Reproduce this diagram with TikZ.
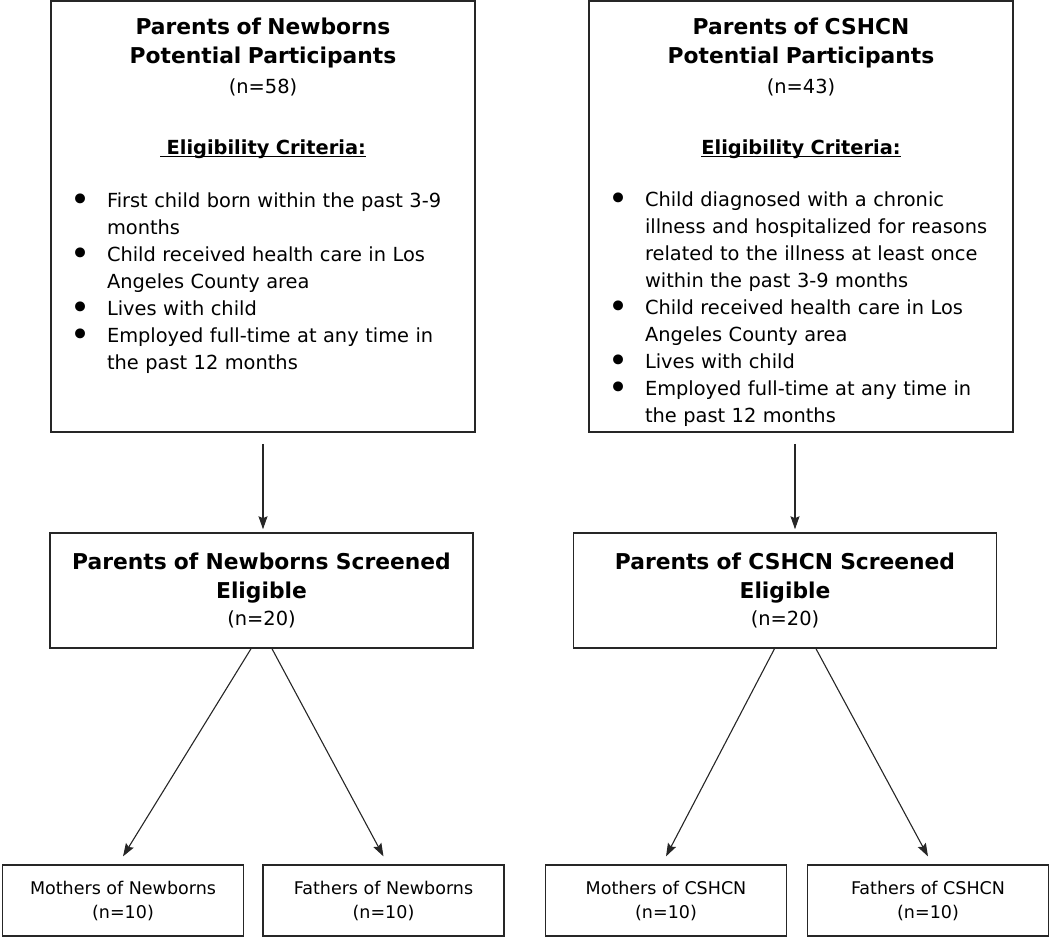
\documentclass[tikz,border=0pt]{standalone}
\usepackage{fontspec}
\setmainfont{DejaVu Sans}
\usetikzlibrary{shapes.geometric, arrows, arrows.meta, positioning}

\newcommand{\hdfont}{\fontsize{21.8}{29}\selectfont\bfseries}
\newcommand{\bdfont}{\normalfont\fontsize{19.4}{27}\selectfont}
\newcommand{\smfont}{\normalfont\fontsize{17.5}{24}\selectfont}
\newsavebox{\critbox}
\newcommand{\critline}[1]{\leavevmode\sbox{\critbox}{\textbf{#1}}\rlap{\rule[-3pt]{\wd\critbox}{1.4pt}}\usebox{\critbox}}
\newenvironment{critlist}{\begin{list}{\smash{\raisebox{-4.5pt}{\fontsize{34}{34}\selectfont\textbullet}}}{%
  \setlength{\leftmargin}{56pt}\setlength{\labelwidth}{22pt}\setlength{\labelsep}{16pt}%
  \setlength{\topsep}{0pt}\setlength{\partopsep}{0pt}\setlength{\itemsep}{0pt}%
  \setlength{\parsep}{0pt}\setlength{\rightmargin}{-40pt}}\raggedright}{\end{list}}

\begin{document}
\begin{tikzpicture}[x=1pt, y=1pt]
		\tikzstyle{topbox} = [rectangle, draw=black!85, line width=1.5pt, minimum width=424pt, minimum height=431pt, inner sep=0pt]
		\tikzstyle{toptext} = [anchor=north, text width=424pt, inner sep=0pt, font=\bdfont]
		\tikzstyle{midbox} = [rectangle, draw=black!85, line width=1.5pt, minimum width=423pt, minimum height=115pt, text width=423pt, inner sep=0pt, font=\hdfont]
		\tikzstyle{lowbox} = [rectangle, draw=black!85, line width=1.2pt, minimum width=241pt, minimum height=71pt, inner sep=0pt, align=center, font=\smfont]
		\tikzstyle{arrow} = [line width=1.1pt, black!85, ->, >={Stealth[length=13pt, width=9pt, inset=2pt]}]
		
		\useasboundingbox (0,0) rectangle (1050,-937);
		
		% potential participants
		\node (potN) [topbox] at (263,-216.5) {};
		\node (potNtxt) [toptext] at (263,-17.4) {%
			\centering\hdfont Parents of Newborns\\Potential Participants\par
			\bdfont\vspace{3pt}(n=58)\par
			\vspace{34pt}\critline{\ Eligibility Criteria:}\par
			\vspace{26pt}
			\begin{critlist}
				\item First child born within the past 3-9\\months
				\item Child received health care in Los\\Angeles County area
				\item Lives with child
				\item Employed full-time at any time in\\the past 12 months
			\end{critlist}};
		
		\node (potC) [topbox] at (801,-216.5) {};
		\node (potCtxt) [toptext] at (801,-17.4) {%
			\centering\hdfont Parents of CSHCN\\Potential Participants\par
			\bdfont\vspace{3pt}(n=43)\par
			\vspace{34pt}\critline{Eligibility Criteria:}\par
			\vspace{25pt}
			\begin{critlist}
				\item Child diagnosed with a chronic\\illness and hospitalized for reasons\\related to the illness at least once\\within the past 3-9 months
				\item Child received health care in Los\\Angeles County area
				\item Lives with child
				\item Employed full-time at any time in\\the past 12 months
			\end{critlist}};
		
		% screened eligible
		\node (scrN) [midbox] at (261.5,-590.5) {\centering Parents of Newborns Screened\\Eligible\par\bdfont(n=20)\par\vspace{3pt}};
		\node (scrC) [midbox] at (785,-590.5) {\centering Parents of CSHCN Screened\\Eligible\par\bdfont(n=20)\par\vspace{3pt}};
		
		% mothers and fathers
		\node (momN) [lowbox] at (123,-900.5) {Mothers of Newborns\\(n=10)};
		\node (fatN) [lowbox] at (383.5,-900.5) {Fathers of Newborns\\(n=10)};
		\node (momC) [lowbox] at (666,-900.5) {Mothers of CSHCN\\(n=10)};
		\node (fatC) [lowbox] at (928,-900.5) {Fathers of CSHCN\\(n=10)};
		
		\coordinate (dropN) at ([yshift=-11pt]potN.south);
		\coordinate (dropC) at ([xshift=-6pt, yshift=-11pt]potC.south);
		\draw [arrow, shorten >=3pt] (dropN) -- (dropN |- scrN.north);
		\draw [arrow, shorten >=3pt] (dropC) -- (dropC |- scrC.north);
		
		\draw [arrow] ([xshift=-10.5pt]scrN.south) -- ([yshift=8pt]momN.north);
		\draw [arrow] ([xshift=10.5pt]scrN.south) -- ([yshift=8pt]fatN.north);
		\draw [arrow] ([xshift=-10.5pt]scrC.south) -- ([yshift=8pt]momC.north);
		\draw [arrow] ([xshift=31pt]scrC.south) -- ([yshift=8pt]fatC.north);
\end{tikzpicture}
\end{document}
